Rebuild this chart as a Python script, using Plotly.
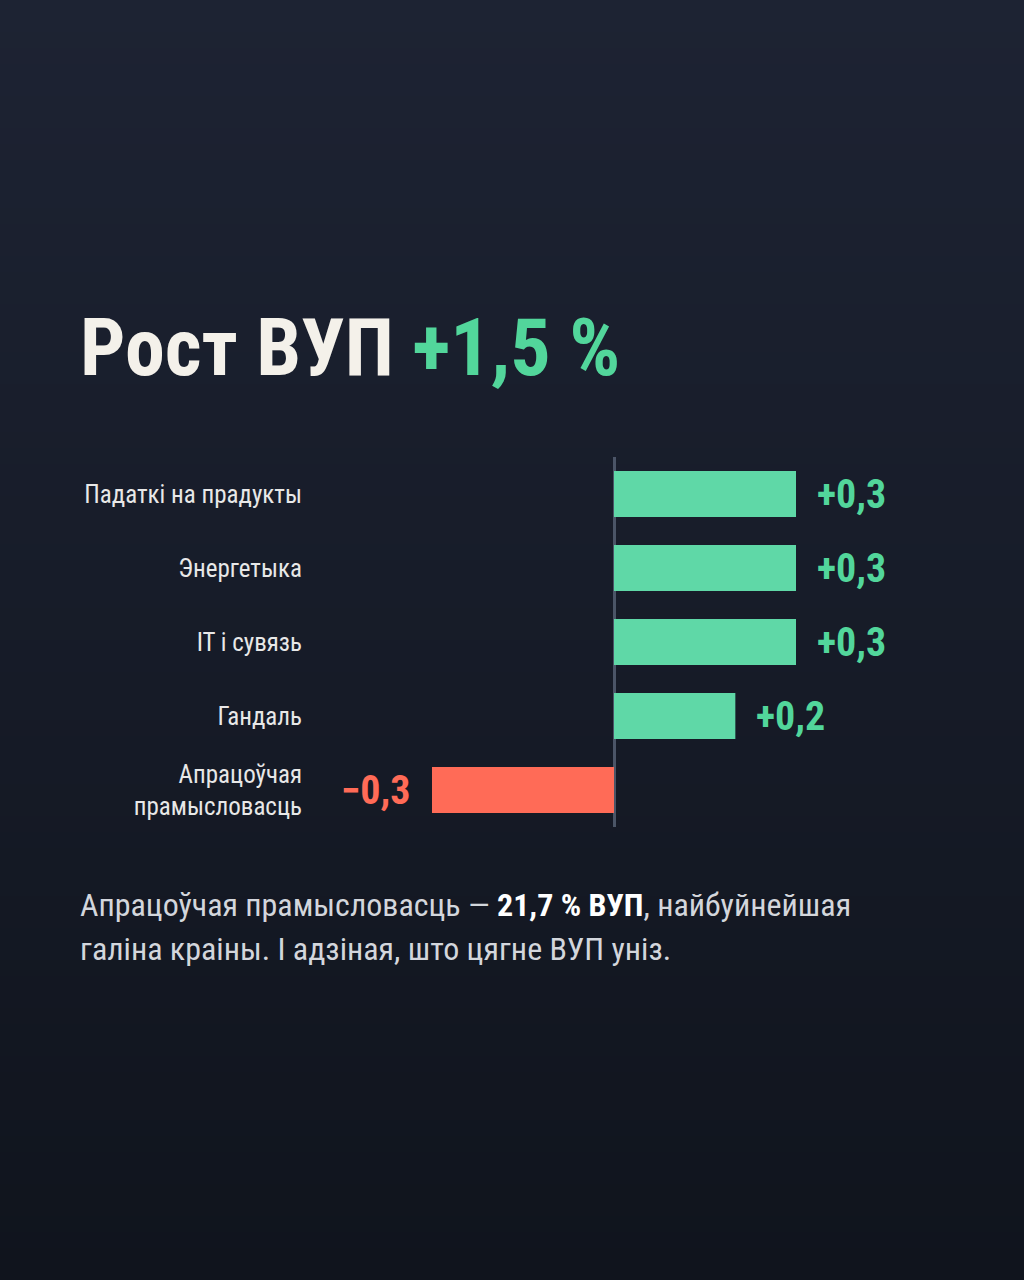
import plotly.graph_objects as go

# data
categories = ["Падаткі на прадукты", "Энергетыка", "IT і сувязь", "Гандаль",
              "Апрацоўчая<br>прамысловасць"]
values = [0.3, 0.3, 0.3, 0.2, -0.3]
gdp_growth = "+1,5 %"
manuf_share = "21,7 % ВУП"

GREEN_BAR = "#5fd8a7"
GREEN_TXT = "#52d69b"
RED = "#ff6b57"
FONT = "Roboto Condensed, Liberation Sans Narrow, Roboto, sans-serif"

W, H = 1024, 1280
ml, mr, mt, mb = 320, 64, 457, 453


def px(x):
    return (x - ml) / (W - ml - mr)


def py_(y):
    return (H - mb - y) / (H - mt - mb)


def fmt(v):
    s = "{:+.1f}".format(v).replace(".", ",")
    return s.replace("-", "\u2212")


colors = [GREEN_BAR if v >= 0 else RED for v in values]

fig = go.Figure()
fig.add_trace(go.Bar(
    x=values, y=categories, orientation="h",
    marker=dict(color=colors, line=dict(width=0)),
    width=0.62, hoverinfo="skip", showlegend=False))

# value labels next to bars
for c, v in zip(categories, values):
    fig.add_annotation(
        x=v, y=c, xref="x", yref="y", text="<b>" + fmt(v) + "</b>",
        showarrow=False, xanchor="left" if v >= 0 else "right",
        xshift=19 if v >= 0 else -19, yshift=0,
        font=dict(family=FONT, size=40,
                  color=GREEN_TXT if v >= 0 else RED))

# gradient background made of thin bands
top = (29, 35, 51)
bot = (16, 20, 29)
n = 80
shapes = []
for i in range(n):
    t = i / (n - 1)
    col = tuple(int(round(top[k] + (bot[k] - top[k]) * t)) for k in range(3))
    shapes.append(dict(type="rect", xref="paper", yref="paper",
                       x0=px(-5), x1=px(W + 5),
                       y0=py_(H * (i + 1) / n + 1), y1=py_(H * i / n),
                       fillcolor="rgb(%d,%d,%d)" % col, line=dict(width=0),
                       layer="below"))

# title
fig.add_annotation(
    xref="paper", yref="paper", x=px(78), y=py_(397), xanchor="left",
    yanchor="bottom", showarrow=False,
    text="<b>Рост ВУП <span style='color:%s'>%s</span></b>" % (GREEN_TXT, gdp_growth),
    font=dict(family=FONT, size=80, color="#f4f1ea"))

# note under the chart
fig.add_annotation(
    xref="paper", yref="paper", x=px(78), y=py_(905), xanchor="left",
    yanchor="middle", showarrow=False,
    text="Апрацоўчая прамысловасць \u2014 <b style='color:#ffffff'>%s</b>, найбуйнейшая" % manuf_share,
    font=dict(family=FONT, size=32, color="#d3d6dc"))
fig.add_annotation(
    xref="paper", yref="paper", x=px(78), y=py_(949), xanchor="left",
    yanchor="middle", showarrow=False,
    text="галіна краіны. І адзіная, што цягне ВУП уніз.",
    font=dict(family=FONT, size=32, color="#d3d6dc"))

zero_px = 614
scale = 606.7
fig.update_layout(
    width=W, height=H,
    margin=dict(l=ml, r=mr, t=mt, b=mb, pad=0),
    paper_bgcolor="#161b27", plot_bgcolor="rgba(0,0,0,0)",
    shapes=shapes,
    xaxis=dict(range=[(ml - zero_px) / scale, (W - mr - zero_px) / scale],
               showgrid=False, showticklabels=False, zeroline=True,
               zerolinecolor="#4b5567", zerolinewidth=3, fixedrange=True),
    yaxis=dict(autorange="reversed", showgrid=False, zeroline=False,
               ticks="", ticklabelstandoff=17,
               tickfont=dict(family=FONT, size=25, color="#e8e8e8"),
               fixedrange=True),
    font=dict(family=FONT),
)

fig.write_html("out.html", config={"displayModeBar": False},
               post_script="document.body.style.margin='0';")
